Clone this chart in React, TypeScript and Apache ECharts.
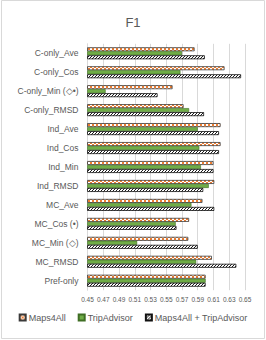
import React, { useEffect, useRef } from 'react';
import * as echarts from 'echarts';

const categories = [
  'C-only_Ave',
  'C-only_Cos',
  'C-only_Min (\u25C7\u2022)',
  'C-only_RMSD',
  'Ind_Ave',
  'Ind_Cos',
  'Ind_Min',
  'Ind_RMSD',
  'MC_Ave',
  'MC_Cos (\u2022)',
  'MC_Min (\u25C7)',
  'MC_RMSD',
  'Pref-only',
];

const seriesNames = ['Maps4All', 'TripAdvisor', 'Maps4All + TripAdvisor'];

const maps4All = [0.586, 0.624, 0.558, 0.572, 0.619, 0.619, 0.610, 0.611, 0.596, 0.579, 0.578, 0.608, 0.600];
const tripAdvisor = [0.570, 0.568, 0.473, 0.579, 0.590, 0.592, 0.594, 0.604, 0.582, 0.562, 0.513, 0.588, 0.600];
const combined = [0.599, 0.645, 0.539, 0.598, 0.617, 0.617, 0.610, 0.597, 0.611, 0.563, 0.590, 0.639, 0.600];

const axisMin = 0.45;
const axisMax = 0.65;
const axisStep = 0.02;

function makeChecker(): HTMLCanvasElement {
  const c = document.createElement('canvas');
  c.width = 4;
  c.height = 4;
  const ctx = c.getContext('2d')!;
  ctx.fillStyle = '#ffffff';
  ctx.fillRect(0, 0, 4, 4);
  ctx.fillStyle = '#ed7d31';
  ctx.fillRect(0, 0, 2, 2);
  ctx.fillRect(2, 2, 2, 2);
  return c;
}

function makeHatch(): HTMLCanvasElement {
  const c = document.createElement('canvas');
  c.width = 3;
  c.height = 3;
  const ctx = c.getContext('2d')!;
  ctx.fillStyle = '#ffffff';
  ctx.fillRect(0, 0, 3, 3);
  ctx.fillStyle = '#1a1a1a';
  for (let y = 0; y < 3; y++) {
    for (let x = 0; x < 3; x++) {
      if ((x + y) % 3 === 0) ctx.fillRect(x, y, 1, 1);
    }
  }
  return c;
}

export default function App() {
  const ref = useRef<HTMLDivElement>(null);

  useEffect(() => {
    if (!ref.current) return;
    const chart = echarts.init(ref.current, undefined, { renderer: 'svg' });
    const checker = makeChecker();
    const hatch = makeHatch();
    const font = 'Liberation Sans, Arial, sans-serif';

    const option: any = {
      animation: false,
      backgroundColor: '#ffffff',
      title: {
        text: 'F1',
        left: 'center',
        top: 11,
        textStyle: { fontSize: 13, fontWeight: 'normal', color: '#595959', fontFamily: font },
      },
      graphic: [
        {
          type: 'rect',
          shape: { x: 1.5, y: 0.5, width: 263, height: 338 },
          style: { fill: 'none', stroke: '#d9d9d9', lineWidth: 1 },
          silent: true,
        },
      ],
      legend: {
        bottom: 13,
        left: 'center',
        icon: 'rect',
        itemWidth: 6,
        itemHeight: 6,
        itemGap: 12,
        textStyle: { fontSize: 9, color: '#595959', fontFamily: font, padding: [0, 0, 0, -2] },
        data: seriesNames,
      },
      grid: { left: 87.5, right: 21, top: 43.8, bottom: 49.8, containLabel: false },
      xAxis: {
        type: 'value',
        min: axisMin,
        max: axisMax,
        interval: axisStep,
        axisLine: { show: false },
        axisTick: { show: false },
        splitLine: { lineStyle: { color: '#d9d9d9', width: 1 } },
        axisLabel: {
          fontSize: 6.5,
          color: '#595959',
          fontFamily: font,
          margin: 6,
          formatter: (v: number) => v.toFixed(2),
        },
      },
      yAxis: {
        type: 'category',
        data: categories,
        inverse: true,
        axisLine: { show: true, lineStyle: { color: '#d9d9d9' } },
        axisTick: { show: false },
        axisLabel: { fontSize: 8.5, color: '#595959', fontFamily: font, margin: 9 },
      },
      series: [
        {
          name: seriesNames[0],
          type: 'bar',
          data: maps4All,
          barWidth: 4,
          barGap: '0%',
          itemStyle: {
            color: { image: checker, repeat: 'repeat' },
            borderColor: '#3a3a3a',
            borderWidth: 0.8,
          },
        },
        {
          name: seriesNames[1],
          type: 'bar',
          data: tripAdvisor,
          barWidth: 4,
          barGap: '0%',
          itemStyle: { color: '#70ad47', borderColor: '#3f6e24', borderWidth: 0.6 },
        },
        {
          name: seriesNames[2],
          type: 'bar',
          data: combined,
          barWidth: 4,
          barGap: '0%',
          itemStyle: {
            color: { image: hatch, repeat: 'repeat' },
            borderColor: '#111111',
            borderWidth: 0.8,
          },
        },
      ],
    };
    chart.setOption(option);
    return () => chart.dispose();
  }, []);

  return (
    <div
      ref={ref}
      style={{ position: 'fixed', left: 0, top: 0, width: 266, height: 340, background: '#fff' }}
    />
  );
}
